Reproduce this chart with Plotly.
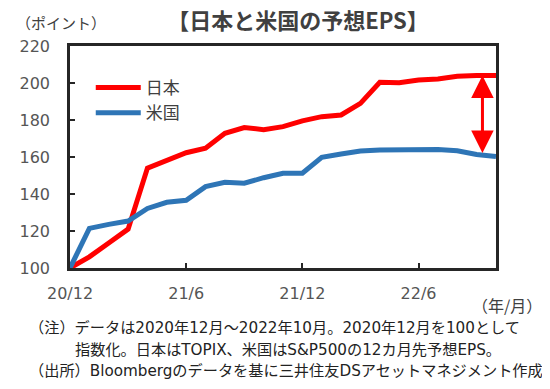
import plotly.graph_objects as go

months = ["2020-12", "2021-01", "2021-02", "2021-03", "2021-04", "2021-05", "2021-06",
          "2021-07", "2021-08", "2021-09", "2021-10", "2021-11", "2021-12", "2022-01",
          "2022-02", "2022-03", "2022-04", "2022-05", "2022-06", "2022-07", "2022-08",
          "2022-09", "2022-10"]
japan = [100, 106, 113.5, 121, 154, 158, 162.3, 164.7, 172.8, 175.9, 174.8, 176.4,
         179.5, 181.8, 182.7, 189, 200.4, 200.2, 201.6, 202.2, 203.6, 204, 204]
us = [100, 121.4, 123.6, 125.4, 132.2, 135.5, 136.6, 144, 146.3, 145.8, 148.8, 151.2,
      151.2, 159.8, 161.6, 163.2, 163.8, 164.1, 164.1, 164.1, 163.4, 161.4, 160.2]
tick_idx = [0, 6, 12, 18]
tick_labels = ["20/12", "21/6", "21/12", "22/6"]
y_ticks = [100, 120, 140, 160, 180, 200, 220]

x = list(range(len(months)))
FONT = "Noto Sans CJK JP"
NOTEFONT = "DejaVu Sans, Noto Sans CJK JP"
NUMFONT = "DejaVu Sans"
GRAY = "#404040"

# page has an 8px body margin; figure is sized/offset to compensate
W, H = 542, 381
L, R, T, B = 57, 54, 38, 121
PW, PH = W - L - R, H - T - B


def px(xf):
    return (xf - 8 - L) / PW


def py(yf):
    return (H - B - (yf - 8)) / PH


fig = go.Figure()
fig.add_trace(go.Scatter(x=x, y=japan, mode="lines", name="日本",
                         line=dict(color="#FF0000", width=5), legendgroup="a"))
fig.add_trace(go.Scatter(x=x, y=us, mode="lines", name="米国",
                         line=dict(color="#2E75B6", width=5), legendgroup="b"))

# gap arrow between the two series near the end
ai = 21.3
fig.add_annotation(x=ai, y=japan[21], ax=ai, ay=us[21], xref="x", yref="y",
                   axref="x", ayref="y", text="", showarrow=True,
                   arrowhead=2, startarrowhead=2, arrowside="end+start",
                   arrowsize=1.5, startarrowsize=1.5, arrowwidth=3,
                   arrowcolor="#FF0000", standoff=0, startstandoff=0)

fig.update_layout(
    width=W, height=H,
    margin=dict(l=L, r=R, t=T, b=B),
    paper_bgcolor="white", plot_bgcolor="white",
    font=dict(family=FONT, color=GRAY),
    showlegend=True,
    legend=dict(x=px(86), y=py(70), xanchor="left", yanchor="top",
                bgcolor="rgba(0,0,0,0)", font=dict(size=17, color=GRAY, family=FONT),
                tracegroupgap=0, itemwidth=45),
    title=dict(text="<b>【日本と米国の予想EPS】</b>", x=(298 - 8) / W, xanchor="center",
               y=1 - (21 - 8) / H, yanchor="middle",
               font=dict(size=22, color=GRAY, family=FONT)),
)
fig.update_xaxes(range=[0, 22], tickvals=tick_idx, ticktext=tick_labels,
                 ticks="inside", ticklen=5, tickwidth=1.5, tickcolor="#262626",
                 showline=True, linecolor="#262626", linewidth=2.5, mirror=True,
                 showgrid=False, zeroline=False, ticklabelstandoff=9,
                 tickfont=dict(size=16, color="#555", family=NUMFONT))
fig.update_yaxes(range=[100, 220], tickvals=y_ticks,
                 ticks="inside", ticklen=5, tickwidth=1.5, tickcolor="#262626",
                 showline=True, linecolor="#262626", linewidth=2.5, mirror=True,
                 showgrid=False, zeroline=False, ticklabelstandoff=14,
                 tickfont=dict(size=16, color="#555", family=NUMFONT))

fig.add_annotation(text="（ポイント）", xref="paper", yref="paper", x=px(8), y=py(22),
                   xanchor="left", yanchor="middle", showarrow=False,
                   font=dict(size=15, color=GRAY, family=FONT))
fig.add_annotation(text="（年/月）", xref="paper", yref="paper", x=px(545), y=py(305),
                   xanchor="right", yanchor="middle", showarrow=False,
                   font=dict(size=16, color=GRAY, family=FONT))
notes = [
    ("（注）データは2020年12月～2022年10月。2020年12月を100として", 22, 328),
    ("指数化。日本はTOPIX、米国はS&P500の12カ月先予想EPS。", 68, 350),
    ("（出所）Bloombergのデータを基に三井住友DSアセットマネジメント作成", 22, 371),
]
for txt, nx, ny in notes:
    fig.add_annotation(text=txt, xref="paper", yref="paper",
                       x=px(nx), y=py(ny),
                       xanchor="left", yanchor="middle", showarrow=False,
                       font=dict(size=15.2, color="#222", family=NOTEFONT))

fig.write_html("out.html")
